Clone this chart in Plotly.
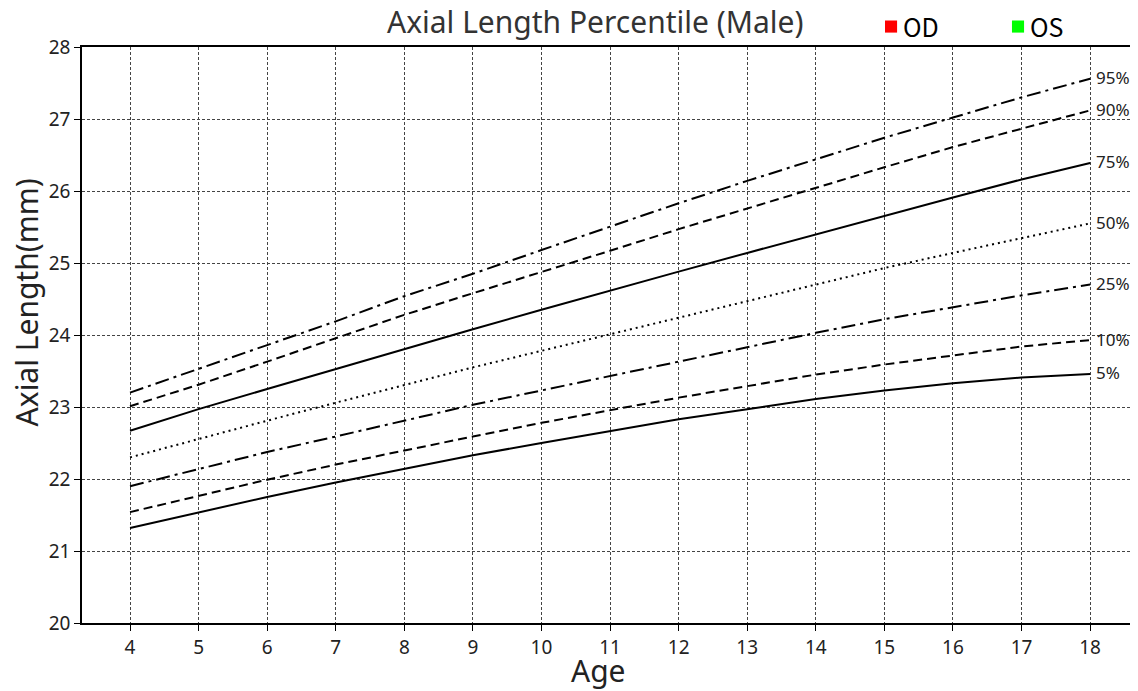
import plotly.graph_objects as go

ages = [4, 5, 6, 7, 8, 9, 10, 11, 12, 13, 14, 15, 16, 17, 18]

p95 = [23.20, 23.53, 23.87, 24.19, 24.54, 24.85, 25.18, 25.51, 25.83, 26.14, 26.44, 26.74, 27.02, 27.30, 27.56]
p90 = [23.01, 23.31, 23.63, 23.96, 24.28, 24.58, 24.87, 25.17, 25.47, 25.76, 26.04, 26.33, 26.61, 26.87, 27.12]
p75 = [22.67, 22.97, 23.25, 23.53, 23.81, 24.08, 24.35, 24.62, 24.88, 25.14, 25.40, 25.66, 25.91, 26.16, 26.39]
p50 = [22.30, 22.56, 22.81, 23.06, 23.31, 23.55, 23.78, 24.01, 24.25, 24.48, 24.70, 24.93, 25.14, 25.34, 25.55]
p25 = [21.90, 22.14, 22.375, 22.59, 22.81, 23.03, 23.23, 23.43, 23.64, 23.84, 24.03, 24.22, 24.39, 24.55, 24.70]
p10 = [21.54, 21.77, 21.99, 22.20, 22.40, 22.59, 22.78, 22.96, 23.13, 23.29, 23.45, 23.59, 23.72, 23.84, 23.93]
p05 = [21.32, 21.54, 21.75, 21.95, 22.14, 22.33, 22.50, 22.67, 22.83, 22.97, 23.11, 23.23, 23.33, 23.41, 23.46]

series_labels = ["95%", "90%", "75%", "50%", "25%", "10%", "5%"]
series_values = [p95, p90, p75, p50, p25, p10, p05]
series_dash = ["14px,5px,3px,5px", "9px,5px", "solid", "2px,4px",
               "14px,5px,3px,5px", "9px,5px", "solid"]

x_ticks = list(range(4, 19))
y_ticks = list(range(20, 29))

FONT = "Noto Sans"

fig = go.Figure()
for lab, vals, dash in zip(series_labels, series_values, series_dash):
    fig.add_trace(go.Scatter(
        x=ages, y=vals, mode="lines", name=lab,
        line=dict(color="black", width=2, dash=dash),
        showlegend=False, hoverinfo="x+y+name"))
    fig.add_annotation(x=ages[-1], y=vals[-1], text=lab, xref="x", yref="y",
                       xanchor="left", yanchor="middle", xshift=4, yshift=1,
                       showarrow=False,
                       font=dict(family=FONT, size=17, color="#222"))

# page body has an 8px margin: figure is shrunk by 8px and margins shifted
fig.update_layout(
    width=1130, height=683,
    margin=dict(l=74, r=4, t=39, b=68),
    paper_bgcolor="white", plot_bgcolor="white",
    xaxis=dict(range=[3.3, 18.64], tickvals=x_ticks, ticks="outside", ticklen=6,
               tickcolor="black", tickwidth=1.2,
               showline=True, linecolor="black", linewidth=1.5, mirror=True,
               showgrid=True, gridcolor="#444", gridwidth=0.8, griddash="3px,2px",
               zeroline=False,
               tickfont=dict(family=FONT, size=19, color="#222")),
    yaxis=dict(range=[20, 28], tickvals=y_ticks, ticks="outside", ticklen=6,
               tickcolor="black", tickwidth=1.2,
               showline=True, linecolor="black", linewidth=1.5,
               showgrid=True, gridcolor="#444", gridwidth=0.8, griddash="3px,2px",
               zeroline=False,
               tickfont=dict(family=FONT, size=19, color="#222")),
)

# titles as annotations (paper coords of the plot area)
fig.add_annotation(xref="paper", yref="paper", x=0.4876, y=1.045, xanchor="center",
                   yanchor="middle", showarrow=False, text="Axial Length Percentile (Male)",
                   font=dict(family=FONT, size=30, color="#333"))
fig.add_annotation(xref="paper", yref="paper", x=0.4905, y=-0.082, xanchor="center",
                   yanchor="middle", showarrow=False, text="Age",
                   font=dict(family=FONT, size=30, color="#222"))
fig.add_annotation(xref="paper", yref="paper", x=-0.053, y=0.557, xanchor="center",
                   yanchor="middle", showarrow=False, text="Axial Length(mm)", textangle=-90,
                   font=dict(family=FONT, size=30, color="#222"))

fig.add_shape(type="line", xref="paper", yref="paper", x0=1, x1=1, y0=0, y1=1,
              line=dict(color="#cccccc", width=1))

legend_names = ["OD", "OS"]
legend_colors = ["#ff0000", "#00ff00"]
legend_x = [0.7633, 0.884]
for name, col, xp in zip(legend_names, legend_colors, legend_x):
    fig.add_shape(type="rect", xref="paper", yref="paper", x0=xp, x1=xp + 0.0115,
                  y0=1.025, y1=1.046, fillcolor=col, line=dict(width=0))
    fig.add_annotation(xref="paper", yref="paper", x=xp + 0.0155, y=1.036, xanchor="left",
                       yanchor="middle", showarrow=False, text=name,
                       font=dict(family="Noto Sans CJK SC", size=25, color="black"))

fig.write_html("out.html")
